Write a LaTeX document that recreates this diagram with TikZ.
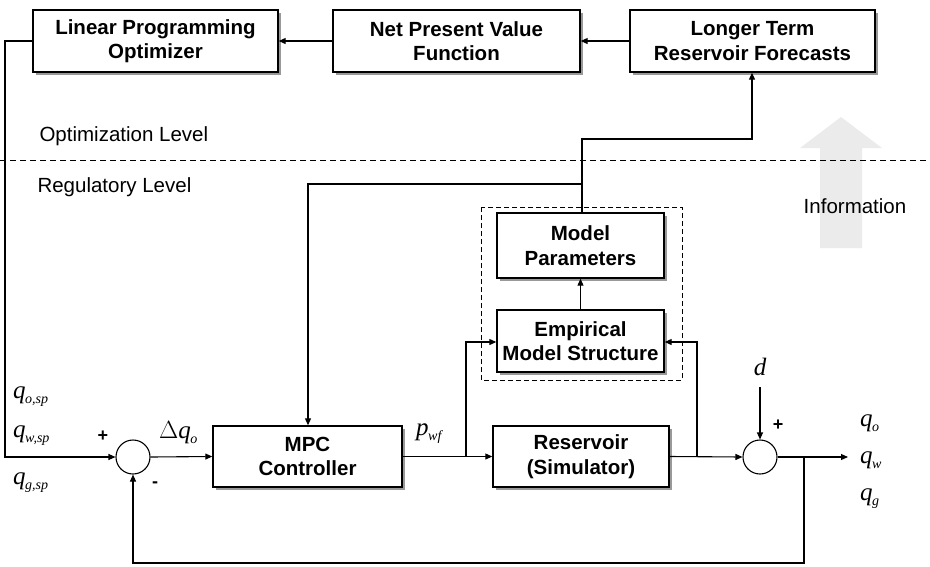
\documentclass[tikz,border=0pt]{standalone}
\usepackage{fontspec}
\setmainfont{Liberation Sans}
\newfontfamily\serifit[ItalicFont={Liberation Serif Italic}]{Liberation Serif}
\usetikzlibrary{arrows.meta,shadows}
% italic variable with an italic subscript
\newcommand{\qvar}[2]{{\serifit\fontsize{25}{27}\selectfont\itshape #1\kern-0.5pt\raisebox{-5pt}{\fontsize{14}{15}\selectfont #2}}}
\begin{document}
\begin{tikzpicture}[x=1pt,y=-1pt,
  blockbox/.style={draw,line width=1.4pt,fill=white,align=center,
    font=\fontsize{20.5}{24.5}\selectfont\bfseries,
    drop shadow={shadow xshift=3pt,shadow yshift=-3pt,fill=black!40,opacity=1}},
  sumnode/.style={draw,circle,line width=1.1pt,minimum size=34pt,inner sep=0pt,fill=white},
  conn/.style={line width=1.1pt,-{Triangle[length=7pt,width=6pt]}},
  lvl/.style={font=\fontsize{20.5}{22}\selectfont,anchor=west},
  sign/.style={font=\fontsize{18}{20}\selectfont\bfseries}]
\useasboundingbox (0,0) rectangle (930,566);

% information arrow in the background
\fill[black!8] (820,248) -- (820,148) -- (800,148) -- (841,117) -- (882,148) -- (862,148) -- (862,248) -- cycle;
\node[font=\fontsize{20.5}{22}\selectfont] (info) at (855,206) {Information};

% level separator
\draw[line width=1pt,dash pattern=on 6pt off 4pt] (0,160) -- (930,160);
\node[lvl] (optlvl) at (36,136) {Optimization Level};
\node[lvl] (reglvl) at (34,187) {Regulatory Level};

% identification boundary
\draw[line width=1pt,dash pattern=on 5pt off 3pt] (481,207) rectangle (682,380);

% blocks
\node[blockbox,minimum width=245pt,minimum height=62pt] (lpo) at (155.5,41) {Linear Programming\\Optimizer};
\node[blockbox,minimum width=247pt,minimum height=62pt] (npv) at (456.5,41) {Net Present Value\\Function};
\node[blockbox,minimum width=245pt,minimum height=62pt] (ltr) at (752.5,41) {Longer Term\\Reservoir Forecasts};
\node[blockbox,minimum width=167pt,minimum height=65pt] (mp) at (580.5,245.5) {Model\\Parameters};
\node[blockbox,minimum width=167pt,minimum height=62pt,inner xsep=1pt] (ems) at (580.5,341) {Empirical\\Model Structure};
\node[blockbox,minimum width=189pt,minimum height=61pt] (mpc) at (307.5,456.5) {MPC\\Controller};
\node[blockbox,minimum width=176pt,minimum height=61pt] (res) at (581,456.5) {Reservoir\\(Simulator)};
\node[sumnode] (s1) at (133,457) {};
\node[sumnode] (s2) at (760,457) {};

% junction points
\coordinate (lpoL) at (5,41);
\coordinate (lpoD) at (5,457);
\coordinate (pj) at (466,457);
\coordinate (pjU) at (466,342);
\coordinate (rj) at (697,457);
\coordinate (rjU) at (697,342);
\coordinate (oj) at (804,457);
\coordinate (ojD) at (804,563);
\coordinate (fbL) at (133,563);
\coordinate (mpUp) at (582,139);
\coordinate (ltrD) at (752,139);
\coordinate (mpj) at (582,184);
\coordinate (mpcU) at (308,184);
\coordinate (dtop) at (760,387);
\coordinate (outE) at (848,457);

% optimization layer
\draw[conn] (ltr.west) -- (npv.east);
\draw[conn] (npv.west) -- (lpo.east);
\draw[conn] (lpo.west) -- (lpoL) -- (lpoD) -- (s1.west);

% regulatory loop
\draw[conn] (s1.east) -- (mpc.west);
\draw[conn] (mpc.east) -- (res.west);
\draw[conn] (pj) -- (pjU) -- (pjU -| ems.west);
\draw[conn] (res.east) -- (s2.west);
\draw[conn] (rj) -- (rjU) -- (rjU -| ems.east);
\draw[conn] (s2.east) -- (outE);
\draw[conn] (oj) -- (ojD) -- (fbL) -- (s1.south);
\draw[conn] (dtop) -- (s2.north);

% model identification
\draw[conn] (ems.north) -- (mp.south);
\draw[conn] (mp.north -| mpUp) -- (mpUp) -- (ltrD) -- (ltr.south -| ltrD);
\draw[conn] (mpj) -- (mpcU) -- (mpc.north -| mpcU);

% signal labels
\node[anchor=base west,inner sep=0pt] (qosp) at (13,398) {\qvar{q}{o,sp}};
\node[anchor=base west,inner sep=0pt] (qwsp) at (13,437) {\qvar{q}{w,sp}};
\node[anchor=base west,inner sep=0pt] (qgsp) at (13,484) {\qvar{q}{g,sp}};
\node[sign] (plus1) at (103,436) {+};
\node[sign] (minus1) at (155,485) {-};
\node[anchor=base west,inner sep=0pt] (dq) at (159,438) {{\serifit\fontsize{25}{27}\selectfont$\Delta$}\qvar{q}{o}};
\node[anchor=base west,inner sep=0pt] (pwf) at (416,435) {\qvar{p}{wf}};
\node[anchor=base,inner sep=0pt] (dlab) at (760,375) {{\serifit\fontsize{25}{27}\selectfont\itshape d}};
\node[sign] (plus2) at (778,425) {+};
\node[anchor=base west,inner sep=0pt] (qo) at (860,426) {\qvar{q}{o}};
\node[anchor=base west,inner sep=0pt] (qw) at (860,463) {\qvar{q}{w}};
\node[anchor=base west,inner sep=0pt] (qg) at (860,500) {\qvar{q}{g}};
\end{tikzpicture}
\end{document}
